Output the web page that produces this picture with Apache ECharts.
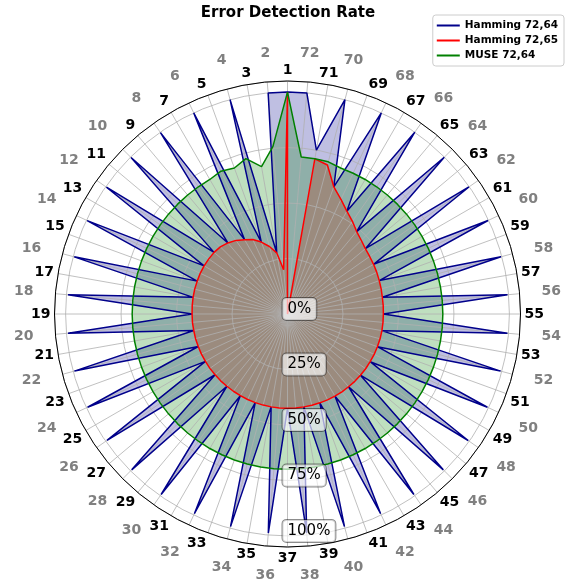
<!DOCTYPE html>
<html>
<head>
<meta charset="utf-8">
<script src="https://cdn.jsdelivr.net/npm/echarts@6/dist/echarts.min.js"></script>
<style>
html,body{margin:0;padding:0;background:#fff;}
#chart{width:569px;height:585px;}
</style>
</head>
<body>
<div id="chart"></div>
<script>
//角度标签 1..72
var labels = ['1','2','3','4','5','6','7','8','9','10','11','12','13','14','15','16','17','18',
	'19','20','21','22','23','24','25','26','27','28','29','30','31','32','33','34','35','36',
	'37','38','39','40','41','42','43','44','45','46','47','48','49','50','51','52','53','54',
	'55','56','57','58','59','60','61','62','63','64','65','66','67','68','69','70','71','72'];

var hamming7264 = [1.0, 1.0, 0.28, 1.0, 0.345, 1.0, 0.387, 0.998, 0.418, 0.997, 0.432, 0.996,
	0.434, 0.996, 0.433, 0.995, 0.432, 0.993, 0.430, 0.993, 0.429, 0.994, 0.428, 0.994,
	0.427, 0.993, 0.426, 0.993, 0.425, 0.993, 0.425, 0.993, 0.425, 0.992, 0.425, 0.991,
	0.425, 0.991, 0.425, 0.992, 0.426, 0.993, 0.427, 0.993, 0.428, 0.993, 0.429, 0.994,
	0.430, 0.994, 0.431, 0.994, 0.432, 0.995, 0.432, 0.995, 0.434, 0.996, 0.440, 0.997,
	0.448, 0.998, 0.458, 0.999, 0.485, 1.0, 0.535, 1.0, 0.610, 1.0, 0.750, 1.0];

var hamming7265 = [1.0, 0.20, 0.28, 0.315, 0.345, 0.37, 0.387, 0.405, 0.418, 0.428, 0.432, 0.433,
	0.434, 0.434, 0.433, 0.433, 0.432, 0.431, 0.430, 0.430, 0.429, 0.429, 0.428, 0.428,
	0.427, 0.427, 0.426, 0.426, 0.425, 0.425, 0.425, 0.425, 0.425, 0.425, 0.425, 0.425,
	0.425, 0.425, 0.425, 0.426, 0.426, 0.427, 0.427, 0.428, 0.428, 0.429, 0.429, 0.430,
	0.430, 0.431, 0.431, 0.432, 0.432, 0.432, 0.432, 0.433, 0.434, 0.437, 0.440, 0.444,
	0.448, 0.452, 0.458, 0.470, 0.485, 0.510, 0.535, 0.570, 0.610, 0.695, 0.710, 0.0];

var muse7264 = [1.0, 0.757, 0.674, 0.725, 0.70, 0.71, 0.70, 0.70, 0.70, 0.70, 0.70, 0.70,
	0.70, 0.70, 0.70, 0.70, 0.70, 0.70, 0.70, 0.70, 0.70, 0.70, 0.70, 0.70,
	0.70, 0.70, 0.70, 0.70, 0.70, 0.70, 0.70, 0.70, 0.70, 0.70, 0.70, 0.70,
	0.70, 0.70, 0.70, 0.70, 0.70, 0.70, 0.70, 0.70, 0.70, 0.70, 0.70, 0.70,
	0.70, 0.70, 0.70, 0.70, 0.70, 0.70, 0.70, 0.70, 0.70, 0.70, 0.70, 0.70,
	0.70, 0.70, 0.70, 0.70, 0.70, 0.70, 0.70, 0.70, 0.70, 0.71, 0.71, 0.71];

var rValues = [0, 0.25, 0.5, 0.75, 1];
var rLabels = ['0%', '25%', '50%', '75%', '100%'];

var seriesNames = ['Hamming 72,64', 'Hamming 72,65', 'MUSE 72,64'];
var seriesColors = ['#00008b', '#ff0000', '#008000'];

//半径轴朝下(startAngle 270)，所以从第37个开始排，最后回到37闭合
function toPolar(vals) {
	var pts = [];
	for (var k = 0; k <= labels.length; k++) {
		var i = (k + 36) % labels.length;
		pts.push([vals[i], k * 5]);
	}
	return pts;
}
function angleLabel(v, odd) {
	if (v >= 360) return '';
	var i = (v / 5 + 36) % labels.length;
	if ((i % 2 == 0) != odd) return '';
	return labels[i];
}

var center = [287.5, 314];
var rad = 233;
var baseAngle = { type : 'value', min : 0, max : 360, interval : 5, startAngle : 270, clockwise : false };
var baseRadius = { type : 'value', min : 0, max : 1.05, interval : 0.25 };
var hidden = {
	axisLine : { show : false },
	axisTick : { show : false },
	splitLine : { show : false },
	axisLabel : { show : false }
};

var myChart = echarts.init(document.getElementById('chart'));
var allData = [hamming7264, hamming7265, muse7264];
var series = [];
//先画填充(在网格下面)
for (var s = 0; s < 3; s++) {
	series.push({
		name : seriesNames[s] + ' fill',
		type : 'line',
		coordinateSystem : 'polar',
		polarIndex : 0,
		data : toPolar(allData[s]),
		symbol : 'none',
		silent : true,
		z : 1,
		color : seriesColors[s],
		lineStyle : { width : 0 },
		areaStyle : { color : seriesColors[s], opacity : 0.25 }
	});
}
//再画线
for (var s = 0; s < 3; s++) {
	series.push({
		name : seriesNames[s],
		type : 'line',
		coordinateSystem : 'polar',
		polarIndex : 0,
		data : toPolar(allData[s]),
		symbol : 'none',
		z : 3,
		color : seriesColors[s],
		lineStyle : { width : 1.5, color : seriesColors[s] }
	});
}

myChart.setOption({
	animation : false,
	textStyle : { fontFamily : 'DejaVu Sans' },
	title : {
		text : 'Error Detection Rate',
		left : 283,
		textAlign : 'center',
		top : 1,
		textStyle : { fontSize : 15, fontWeight : 'bold', color : '#000' }
	},
	legend : {
		orient : 'vertical',
		right : 5,
		top : 15,
		data : seriesNames,
		icon : 'rect',
		itemWidth : 23,
		itemHeight : 2,
		itemGap : 4,
		padding : [5, 6, 5, 4],
		borderColor : '#cccccc',
		borderWidth : 1,
		borderRadius : 3,
		backgroundColor : 'rgba(255,255,255,0.8)',
		textStyle : { fontSize : 10.5, fontWeight : 'bold', color : '#000', lineHeight : 11 }
	},
	polar : [
		{ center : center, radius : rad },
		{ center : center, radius : rad },
		{ center : center, radius : rad },
		//百分比标签稍微往上挪一点
		{ center : [center[0], center[1] - 5], radius : rad }
	],
	angleAxis : [
		Object.assign({}, baseAngle, {
			polarIndex : 0, z : 2,
			axisLine : { lineStyle : { color : '#000', width : 1 } },
			axisTick : { show : false },
			axisLabel : { show : false },
			splitLine : { show : true, lineStyle : { color : '#b0b0b0', width : 0.8 } }
		}),
		Object.assign({}, baseAngle, {
			polarIndex : 1, z : 4,
			axisLine : { show : false },
			axisTick : { show : false },
			splitLine : { show : false },
			axisLabel : {
				margin : 4, fontSize : 14, fontWeight : 'bold', color : '#000',
				formatter : function(v) { return angleLabel(v, true); }
			}
		}),
		Object.assign({}, baseAngle, {
			polarIndex : 2, z : 4,
			axisLine : { show : false },
			axisTick : { show : false },
			splitLine : { show : false },
			axisLabel : {
				margin : 22, fontSize : 14, fontWeight : 'bold', color : '#808080',
				formatter : function(v) { return angleLabel(v, false); }
			}
		}),
		Object.assign({}, baseAngle, hidden, { polarIndex : 3 })
	],
	radiusAxis : [
		Object.assign({}, baseRadius, {
			polarIndex : 0, z : 2,
			axisLine : { show : false },
			axisTick : { show : false },
			axisLabel : { show : false },
			splitLine : { show : true, lineStyle : { color : '#b0b0b0', width : 0.8 } }
		}),
		Object.assign({}, baseRadius, hidden, { polarIndex : 1 }),
		Object.assign({}, baseRadius, hidden, { polarIndex : 2 }),
		Object.assign({}, baseRadius, {
			polarIndex : 3, z : 10,
			axisLine : { show : false },
			axisTick : { show : false },
			splitLine : { show : false },
			axisLabel : {
				margin : -5, fontSize : 15, color : '#000',
				backgroundColor : 'rgba(255,255,255,0.65)',
				borderColor : 'rgba(0,0,0,0.45)', borderWidth : 1, borderRadius : 4,
				padding : [4, 5, 3, 5],
				formatter : function(v) {
					var i = rValues.indexOf(Math.round(v * 100) / 100);
					return i < 0 ? '' : rLabels[i];
				}
			}
		})
	],
	series : series
});
</script>
</body>
</html>
